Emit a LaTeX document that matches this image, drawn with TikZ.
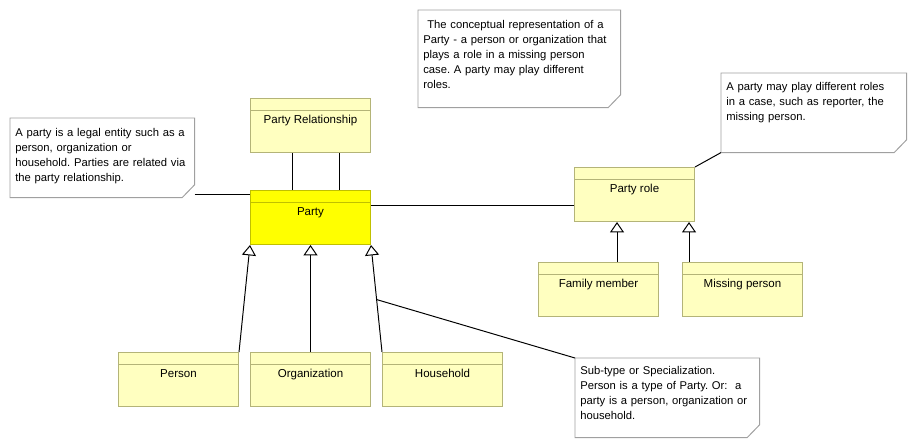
\documentclass[tikz,border=0pt]{standalone}
\usepackage{fontspec}
\setmainfont{Liberation Sans}
\usetikzlibrary{arrows.meta}
\frenchspacing

\definecolor{classfill}{HTML}{FFFFC0}
\definecolor{classedge}{HTML}{B4B478}
\definecolor{partyfill}{HTML}{FFFF00}
\definecolor{partyedge}{HTML}{C0C000}
\definecolor{noteedge}{HTML}{A0A0A0}

% outline of a note with its folded corner
\newcommand{\dogear}[1]{\draw[noteline] (#1.north west) -- (#1.north east) -- ([yshift=0.32cm]#1.south east) -- ([xshift=-0.31cm]#1.south east) -- (#1.south west) -- cycle;}

\tikzset{
  classbox/.style={draw=#1, fill=classfill, line width=0.7pt, anchor=north west,
    minimum width=3cm, inner sep=0pt, text height=0.625cm, text depth=0.725cm,
    font=\fontsize{8.2pt}{10pt}\selectfont,
    path picture={\draw[#1, line width=0.7pt] ([yshift=-0.3cm]path picture bounding box.north west) -- ([yshift=-0.3cm]path picture bounding box.north east);}},
  classbox/.default=classedge,
  notebox/.style={anchor=north west, inner xsep=0.125cm, inner ysep=0pt, align=left,
    font=\fontsize{8pt}{10.67pt}\selectfont},
  noteline/.style={draw=noteedge, line width=0.7pt},
  link/.style={line width=0.7pt},
  genarrow/.style={line width=0.7pt, -{Triangle[open, width=0.35cm, length=0.26cm]}},
}

\begin{document}
\begin{tikzpicture}[x=0.025cm, y=-0.025cm]
    \useasboundingbox (0,0) rectangle (916,448);

    % Classes
    \node[classbox] (prel) at (250,98) {Party Relationship};
    \node[classbox=partyedge, fill=partyfill] (party) at (250,190) {Party};
    \node[classbox] (role) at (574,167) {Party role};
    \node[classbox] (family) at (538,262) {Family member};
    \node[classbox] (missing) at (682,262) {Missing person};
    \node[classbox] (person) at (118,352) {Person};
    \node[classbox] (org) at (250,352) {Organization};
    \node[classbox] (household) at (382,352) {Household};

    % Notes
    \node[notebox, text width=4.35cm, text height=0.45cm, text depth=1.525cm] (note1) at (10,118)
      {A party is a legal entity such as a\\ person, organization or\\ household. Parties are related via\\ the party relationship.};
    \node[notebox, text width=4.8cm, text height=0.45cm, text depth=1.975cm] (note2) at (418,10)
      {\hspace*{0.1cm}The conceptual representation of a\\ Party - a person or organization that\\ plays a role in a missing person\\ case. A party may play different\\ roles.};
    \node[notebox, text width=4.375cm, text height=0.44cm, text depth=1.535cm] (note3) at (721,73)
      {A party may play different roles\\ in a case, such as reporter, the\\ missing person.};
    \node[notebox, text width=4.35cm, text height=0.4cm, text depth=1.575cm] (note4) at (575,358)
      {Sub-type or Specialization.\\ Person is a type of Party. Or:\ \ a\\ party is a person, organization or\\ household.};
    \dogear{note1}
    \dogear{note2}
    \dogear{note3}
    \dogear{note4}

    % Associations
    \draw[link] ([xshift=1.05cm]prel.south west) -- ([xshift=1.05cm]party.north west);
    \draw[link] ([xshift=2.225cm]prel.south west) -- ([xshift=2.225cm]party.north west);
    \draw[link] ([yshift=-0.375cm]party.north east) -- ([yshift=-0.375cm]party.north east -| role.west);

    % Note anchors
    \draw[link] ([yshift=0.075cm]note1.south east) -- ([yshift=0.075cm]note1.south east -| party.west);
    \draw[link] (note3.south west) -- (role.north east);

    % Generalizations
    \draw[genarrow] (person.north east) -- (party.south west);
    \draw[genarrow] (org.north) -- (party.south);
    \draw[genarrow] (household.north west) -- coordinate[pos=0.49] (hhmid) (party.south east);
    \draw[link] (note4.north west) -- (hhmid);

    \coordinate (fmtip) at ([xshift=1.075cm]role.south west);
    \coordinate (mptip) at ([xshift=-0.15cm]role.south east);
    \draw[genarrow] (family.north -| fmtip) -- (fmtip);
    \draw[genarrow] (missing.north -| mptip) -- (mptip);

\end{tikzpicture}
\end{document}
